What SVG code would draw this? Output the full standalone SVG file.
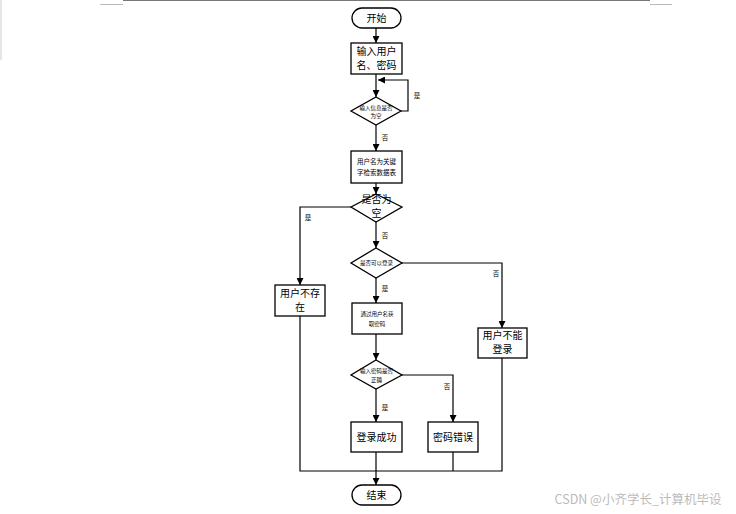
<svg xmlns="http://www.w3.org/2000/svg" width="736" height="514" viewBox="0 0 736 514">
<style>
.n{fill:#fff;stroke:#000;stroke-width:1.3}
.c{fill:none;stroke:#000;stroke-width:1.2}
text{font-family:"Noto Sans CJK SC","Liberation Sans",sans-serif;fill:#000;text-anchor:middle}
.t{font-size:10px}
.s{font-size:5.5px}
.m{font-size:6.5px}
.l{font-size:6.5px}
</style>
<defs>
<marker id="a" viewBox="0 0 10 10" refX="10" refY="5" markerWidth="7" markerHeight="7" markerUnits="userSpaceOnUse" orient="auto"><path d="M0,0L10,5L0,10z" fill="#000"/></marker>
</defs>
<rect width="736" height="514" fill="#fff"/>
<line x1="123" y1="0.5" x2="650" y2="0.5" stroke="#777" stroke-width="1"/>
<line x1="100" y1="4.5" x2="123" y2="4.5" stroke="#bbb" stroke-width="1"/>
<line x1="650" y1="4.5" x2="672" y2="4.5" stroke="#bbb" stroke-width="1"/>
<line x1="1" y1="0" x2="1" y2="60" stroke="#ccc" stroke-width="1"/>
<g id="connectors">
<path class="c" d="M376,27V43" marker-end="url(#a)"/>
<path class="c" d="M376,74V97" marker-end="url(#a)"/>
<path class="c" d="M401,111H408V80H378" marker-end="url(#a)"/>
<path class="c" d="M376,125V151" marker-end="url(#a)"/>
<path class="c" d="M376,183V194" marker-end="url(#a)"/>
<path class="c" d="M351,207H300V285" marker-end="url(#a)"/>
<path class="c" d="M376,222V248" marker-end="url(#a)"/>
<path class="c" d="M402,263H502V328" marker-end="url(#a)"/>
<path class="c" d="M376,278V303" marker-end="url(#a)"/>
<path class="c" d="M376,334V360" marker-end="url(#a)"/>
<path class="c" d="M402,375H453V422" marker-end="url(#a)"/>
<path class="c" d="M376,389V422" marker-end="url(#a)"/>
<path class="c" d="M376,452V485" marker-end="url(#a)"/>
<path class="c" d="M300,316V471H502V358"/>
<path class="c" d="M453,452V471"/>
<text class="l" x="417" y="98">是</text>
<text class="l" x="385" y="140">否</text>
<text class="l" x="308" y="220">是</text>
<text class="l" x="385" y="238">否</text>
<text class="l" x="496" y="276">否</text>
<text class="l" x="385" y="291">是</text>
<text class="l" x="447" y="389">否</text>
<text class="l" x="385" y="410">是</text>
</g>
<g id="start"><rect class="n" x="352" y="8" width="49" height="20" rx="10"/><text class="t" x="376.5" y="21.5">开始</text></g>
<g id="input"><rect class="n" x="351" y="43" width="51" height="31"/><text class="t" x="376.5" y="55">输入用户</text><text class="t" x="376.5" y="69">名、密码</text></g>
<g id="check1"><polygon class="n" points="376,97 401,111 376,125 351,111"/><text class="s" x="376" y="110">输入信息是否</text><text class="s" x="376" y="118">为空</text></g>
<g id="search"><rect class="n" x="351" y="151" width="51" height="32"/><text class="m" x="376.5" y="164">用户名为关键</text><text class="m" x="376.5" y="175">字检索数据表</text></g>
<g id="check2"><polygon class="n" points="376,194 402,207 376,222 351,207"/><text class="t" x="376.5" y="203">是否为</text><text class="t" x="376.5" y="217">空</text></g>
<g id="nouser"><rect class="n" x="275" y="285" width="50" height="31"/><text class="t" x="300" y="297">用户不存</text><text class="t" x="300" y="311">在</text></g>
<g id="check3"><polygon class="n" points="376,248 402,263 376,278 351,263"/><text class="s" x="376.5" y="265">是否可以登录</text></g>
<g id="cannot"><rect class="n" x="478" y="328" width="49" height="30"/><text class="t" x="502.5" y="339">用户不能</text><text class="t" x="502.5" y="353">登录</text></g>
<g id="getpwd"><rect class="n" x="352" y="303" width="50" height="31"/><text class="s" x="377" y="316">通过用户名获</text><text class="s" x="377" y="326">取密码</text></g>
<g id="check4"><polygon class="n" points="376,360 402,375 376,389 351,375"/><text class="s" x="376.5" y="373">输入密码是否</text><text class="s" x="376.5" y="382">正确</text></g>
<g id="success"><rect class="n" x="351" y="422" width="51" height="30"/><text class="t" x="376.5" y="441">登录成功</text></g>
<g id="wrong"><rect class="n" x="428" y="422" width="50" height="30"/><text class="t" x="453" y="441">密码错误</text></g>
<g id="end"><rect class="n" x="352" y="485" width="49" height="20" rx="10"/><text class="t" x="376.5" y="498.5">结束</text></g>
<text x="638" y="504" style="font-size:12.5px;fill:#bbb">CSDN @小齐学长_计算机毕设</text>
</svg>
